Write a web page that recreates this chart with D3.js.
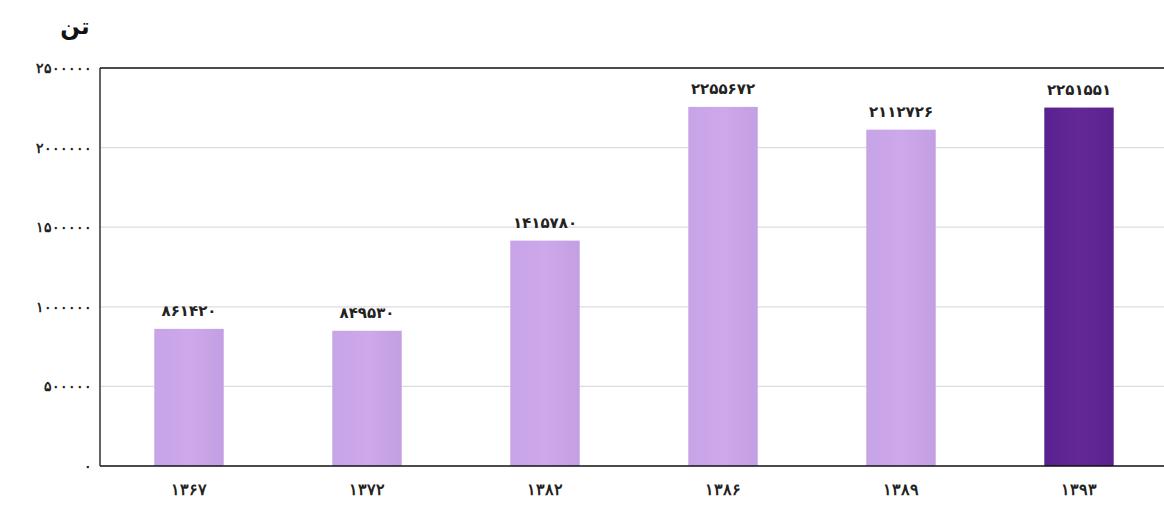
<!DOCTYPE html>
<html>
<head>
<meta charset="utf-8">
<script src="https://cdn.jsdelivr.net/npm/d3@7"></script>
<style>
  html, body { margin: 0; padding: 0; background: #fff; }
  svg { display: block; font-family: "DejaVu Sans", sans-serif; }
  .tick text { font-weight: bold; }
</style>
</head>
<body>
<div id="chart"></div>
<script>
// ── داده‌ها ──
const years  = ['1367', '1372', '1382', '1386', '1389', '1393'];
const values = [861420, 849530, 1415780, 2255672, 2112726, 2251551];
const yTicks = [0, 500000, 1000000, 1500000, 2000000, 2500000];
const unitLabel = 'تن';

const W = 1164, H = 514;
const M = { top: 68, right: -4, bottom: 48, left: 100 };

// تبدیل ارقام به فارسی
const faDigits = '۰۱۲۳۴۵۶۷۸۹';
const toFa = s => String(s).replace(/\d/g, d => faDigits[+d]);

const svg = d3.select('#chart').append('svg')
  .attr('width', W).attr('height', H);

const defs = svg.append('defs');
function grad(id, c0, c1, c2) {
  const g = defs.append('linearGradient').attr('id', id)
    .attr('x1', '0%').attr('x2', '100%').attr('y1', '0%').attr('y2', '0%');
  g.append('stop').attr('offset', '0%').attr('stop-color', c0);
  g.append('stop').attr('offset', '50%').attr('stop-color', c1);
  g.append('stop').attr('offset', '100%').attr('stop-color', c2);
}
grad('lightGrad', '#c7a3e8', '#cda8ea', '#c39fe3');
grad('darkGrad', '#57218f', '#642896', '#5a228f');

const x = d3.scaleBand().domain(years)
  .range([M.left, W - M.right]).paddingInner(0.61).paddingOuter(0.305);
const y = d3.scaleLinear().domain([0, 2500000]).range([H - M.bottom, M.top]);

// ── خطوط شبکه ──
svg.append('g').selectAll('line')
  .data(yTicks.filter(t => t > 0 && t < 2500000))
  .enter().append('line')
  .attr('x1', M.left).attr('x2', W)
  .attr('y1', d => y(d)).attr('y2', d => y(d))
  .attr('stroke', '#dcdcdc').attr('stroke-width', 1.2);

// ── میله‌ها ──
svg.append('g').selectAll('rect')
  .data(values)
  .enter().append('rect')
  .attr('x', (d, i) => x(years[i]))
  .attr('width', x.bandwidth())
  .attr('y', d => y(d))
  .attr('height', d => y(0) - y(d))
  .attr('fill', (d, i) => i === values.length - 1 ? 'url(#darkGrad)' : 'url(#lightGrad)');

// ── برچسب مقادیر ──
svg.append('g').selectAll('text')
  .data(values)
  .enter().append('text')
  .attr('x', (d, i) => x(years[i]) + x.bandwidth() / 2)
  .attr('y', d => y(d) - 13)
  .attr('text-anchor', 'middle')
  .attr('font-size', 15).attr('font-weight', 'bold').attr('fill', '#222')
  .text(d => toFa(d));

// ── محورها ──
const yAxis = d3.axisLeft(y).tickValues(yTicks).tickSize(0).tickPadding(8)
  .tickFormat(d => toFa(d));
svg.append('g').attr('transform', `translate(${M.left},0)`).call(yAxis)
  .call(g => g.select('.domain').remove())
  .selectAll('text').attr('font-size', 14).attr('fill', '#222');

const xAxis = d3.axisBottom(x).tickSize(0).tickPadding(18).tickFormat(d => toFa(d));
svg.append('g').attr('transform', `translate(0,${y(0)})`).call(xAxis)
  .call(g => g.select('.domain').remove())
  .selectAll('text').attr('font-size', 16).attr('fill', '#222');

// ── قاب ──
svg.append('line').attr('x1', M.left).attr('x2', W).attr('y1', y(0)).attr('y2', y(0))
  .attr('stroke', '#111').attr('stroke-width', 1.3);
svg.append('line').attr('x1', M.left).attr('x2', W).attr('y1', y(2500000)).attr('y2', y(2500000))
  .attr('stroke', '#111').attr('stroke-width', 1.3);
svg.append('line').attr('x1', M.left).attr('x2', M.left).attr('y1', y(0)).attr('y2', y(2500000))
  .attr('stroke', '#111').attr('stroke-width', 1.3);

// ── واحد ──
svg.append('text')
  .attr('x', 75).attr('y', 34)
  .attr('text-anchor', 'middle')
  .attr('font-size', 23).attr('font-weight', 'bold').attr('fill', '#111')
  .text(unitLabel);
</script>
</body>
</html>
